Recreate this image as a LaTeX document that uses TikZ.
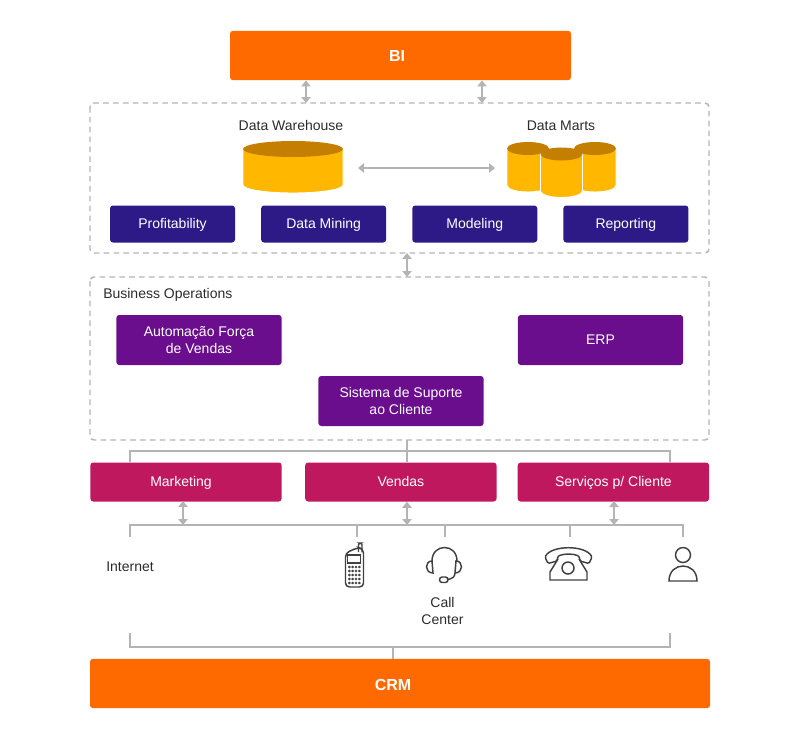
\documentclass[tikz,border=0pt]{standalone}
\usepackage{fontspec}
\setmainfont{Liberation Sans}
\usetikzlibrary{positioning,arrows.meta}
\definecolor{crmorange}{HTML}{FF6A00}
\definecolor{dwblue}{HTML}{2E1A87}
\definecolor{opspurple}{HTML}{6A0E8E}
\definecolor{chanred}{HTML}{C0185E}
\definecolor{dbyellow}{HTML}{FFB700}
\definecolor{dbbrown}{HTML}{C47F00}
\definecolor{linegray}{HTML}{B4B4B4}
\definecolor{icongray}{HTML}{404040}
\definecolor{txtgray}{HTML}{2B2B2B}

\begin{document}
\begin{tikzpicture}[
        x=0.75pt, y=-0.75pt,
        font=\fontsize{10.5pt}{12.75pt}\selectfont,
        box/.style={rectangle, rounded corners=2.2pt, text=white, align=center, inner sep=0pt},
        bar/.style={box, fill=crmorange, minimum height=37pt, font=\fontsize{12pt}{13pt}\selectfont\bfseries},
        dw/.style={box, fill=dwblue, minimum width=93.75pt, minimum height=27.75pt, text height=7.5pt, text depth=1pt},
        ops/.style={box, fill=opspurple, minimum width=124pt, minimum height=37.5pt},
        chan/.style={box, fill=chanred, minimum width=143.5pt, minimum height=29.25pt, text height=7.5pt, text depth=1pt},
        zone/.style={draw=linegray, line width=1.1pt, dash pattern=on 4.2pt off 3.2pt, rounded corners=3pt},
        label/.style={text=txtgray, align=center, inner sep=0pt},
        link/.style={draw=linegray, line width=1.5pt},
        twoway/.style={link, {Triangle[length=4.5pt,width=7pt]}-{Triangle[length=4.5pt,width=7pt]}},
        icon/.style={draw=icongray, line width=1.1pt},
        pics/drum/.style n args={3}{code={
          \path[fill=dbyellow, draw=white, line width=0.7pt] (-#1,0) -- (-#1,#2) arc (180:0:#1 and #3) -- (#1,0) -- cycle;
          \fill[dbbrown] (0,0) ellipse (#1 and #3);
        }}
      ]
      \useasboundingbox (0,0) rectangle (800,740);

      % Zones
      \draw[zone] (90,103) rectangle (709,253);
      \draw[zone] (90,277) rectangle (709,440);
      \coordinate (dwbot) at (407,253);
      \coordinate (opstop) at (407,277);
      \coordinate (opsbot) at (407,440);

      % BI and CRM
      \node[bar, minimum width=255.75pt] (bi) at (400.5,55.5) {BI\hspace*{5.25pt}};
      \node[bar, minimum width=465pt, text height=10.2pt] (crm) at (400,683.5) {CRM\hspace*{10.5pt}};

      % Data warehouse
      \node[label] (warehouse) at (291,125) {Data Warehouse};
      \node[label] (marts) at (561,125.5) {Data Marts};
      \pic at (293,149) {drum={50}{36}{8}};
      \pic at (528,148.5) {drum={21}{37}{6.5}};
      \pic at (595,148.5) {drum={21}{37}{6.5}};
      \pic at (561.5,154) {drum={21}{37}{6.5}};
      \coordinate (whend) at (358,168);
      \coordinate (martend) at (495,168);

      \node[dw] (profit) at (172.5,224) {Profitability};
      \node[dw, right=19.2pt of profit] (mining) {Data Mining};
      \node[dw, right=19.2pt of mining] (modeling) {Modeling};
      \node[dw, right=19.2pt of modeling] (reporting) {Reporting};

      % Business operations
      \node[label, anchor=west] (business) at (103,294.5) {Business Operations};
      \node[ops] (sales) at (199,340) {Automação Força\\de Vendas};
      \node[ops] (erp) at (600.5,340) {ERP};
      \node[ops] (support) at (401,401) {Sistema de Suporte\\ao Cliente};

      % Channels
      \node[chan] (marketing) at (186,482) {Marketing\hspace*{7.5pt}};
      \node[chan, right=17.25pt of marketing] (vendas) {Vendas};
      \node[chan, right=15.5pt of vendas] (servicos) {Serviços p/ Cliente};

      % Contact points
      \node[label] (internet) at (130,566.5) {Internet};
      \node[label] (callcenter) at (442.5,610.5) {Call\\Center};
      \coordinate (tickint) at (130,537);
      \coordinate (tickcell) at (357,537);
      \coordinate (tickcall) at (445,537);
      \coordinate (tickdesk) at (570,537);
      \coordinate (tickuser) at (683,537);

      % Connections
      \coordinate (biA) at (306,103);
      \coordinate (biB) at (482,103);
      \draw[twoway] (biA |- bi.south) -- (biA);
      \draw[twoway] (biB |- bi.south) -- (biB);
      \draw[twoway] (whend) -- (martend);
      \draw[twoway] (dwbot) -- (opstop);

      \coordinate (opsbus) at (407,451);
      \draw[link] (opsbot) -- (opsbus);
      \draw[link] (marketing.north -| tickint) |- (opsbus);
      \draw[link] (opsbus) -| (servicos.north -| 670,0);
      \draw[link] (opsbus) -- (vendas.north -| opsbus);

      \coordinate (chanbus) at (407,525);
      \draw[link] (tickint) |- (chanbus) -| (tickuser);
      \draw[link] (tickcell |- chanbus) -- (tickcell);
      \draw[link] (tickcall |- chanbus) -- (tickcall);
      \draw[link] (tickdesk |- chanbus) -- (tickdesk);
      \draw[twoway] (183,501) -- (183,525);
      \draw[twoway] (vendas.south -| chanbus) -- (chanbus);
      \draw[twoway] (614,501) -- (614,525);

      % CRM bracket
      \coordinate (crmbus) at (393,647);
      \draw[link] (130,633) |- (crmbus) -| (670,633);
      \draw[link] (crmbus) -- (crm.north -| crmbus);

      % Mobile phone
      \draw[icon, rounded corners=3pt] (345.5,587) -- (345.5,553) -- (358,547.5) -- (363.5,549) -- (363.5,587) -- cycle;
      \draw[icon, rounded corners=1.5pt] (358.5,552) -- (358.5,543) -- (362,543) -- (362,552);
      \draw[icon] (347.5,555) rectangle (360.5,563);
      \foreach \col in {349,352.3,355.6,358.9} {
        \foreach \row in {567,571,575,579,583} {
          \fill[icongray] (\col+0.4,\row) ellipse (1.5 and 1.4);
        }
      }

      % Headset
      \draw[icon] (432,561) .. controls (432,543) and (457,543) .. (457,561);
      \draw[icon] (432,561) .. controls (424.5,561) and (424.5,573) .. (433,573) -- cycle;
      \draw[icon] (456,561) .. controls (463.5,561) and (463.5,573) .. (455,573) -- cycle;
      \draw[icon] (455,573) .. controls (455,577) and (452,579) .. (447,579.5);
      \draw[icon, rounded corners=2pt] (439.5,577) rectangle (448,582.5);

      % Desk phone
      \draw[icon, rounded corners=1pt] (545,557) .. controls (552,545) and (585,545) .. (592,557) -- (589,563.5) -- (580,561) -- (579,556) .. controls (572,553.5) and (565,553.5) .. (558,556) -- (557,561) -- (548,563.5) -- cycle;
      \draw[icon] (558,559) -- (550,572) -- (550,580) -- (587,580) -- (587,572) -- (579,559);
      \draw[icon] (568,568) circle (6);

      % User
      \draw[icon] (683,555) circle (7.5);
      \draw[icon] (669,581) .. controls (669,561) and (697,561) .. (697,581) -- cycle;
    \end{tikzpicture}
\end{document}
